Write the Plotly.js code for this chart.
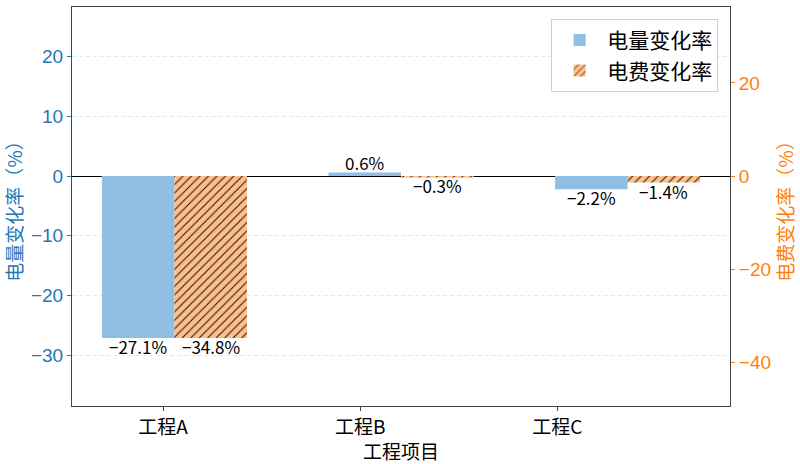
<!DOCTYPE html>
<html>
<head>
<meta charset="utf-8">
<script src="https://cdn.plot.ly/plotly-3.0.1.min.js"></script>
<style>html,body{margin:0;padding:0;background:#fff}#chart{width:800px;height:464px}</style>
</head>
<body>
<div id="chart"></div>
<script>
const categories = ['工程A', '工程B', '工程C'];
const positions = [0, 1, 2];
const energyChange = [-27.1, 0.6, -2.2];
const costChange = [-34.8, -0.3, -1.4];
const seriesNames = ['电量变化率', '电费变化率'];
const tickPositions = [-0.05, 0.82, 1.69];

const CJK = '"Noto Sans CJK SC", "DejaVu Sans", sans-serif';
const NUM = '"Liberation Sans", Arial, sans-serif';
const BLUE = '#1f77b4', ORANGE = '#ff7f0e';
const BW = 0.32;

const traces = [
  {
    type: 'bar', name: seriesNames[0], x: positions, y: energyChange,
    width: BW, offset: -BW, xaxis: 'x', yaxis: 'y',
    marker: {color: '#8fbfe4', line: {width: 0}},
    hoverinfo: 'skip'
  },
  {
    type: 'bar', name: seriesNames[1], x: positions, y: costChange,
    width: BW, offset: 0, xaxis: 'x', yaxis: 'y2',
    marker: {color: '#ffbf88', line: {width: 0},
      pattern: {shape: '/', fgcolor: '#111', fgopacity: 1, bgcolor: '#ffbf88', size: 6, solidity: 0.16, fillmode: 'replace'}},
    hoverinfo: 'skip'
  }
];

const fmt = v => v.toFixed(1).replace('-', '−') + '%';
const annotations = [];
const mk = (xv, v, yref) => ({
  xref: 'x', yref: yref, x: xv, y: v, text: fmt(v),
  showarrow: false, yanchor: v < 0 ? 'top' : 'bottom', borderpad: 0, yshift: v < 0 ? 5 : -4,
  font: {family: CJK, size: 17, color: '#000'}
});
energyChange.forEach((v, i) => annotations.push(mk(positions[i] - BW / 2, v, 'y')));
costChange.forEach((v, i) => annotations.push(mk(positions[i] + BW / 2, v, 'y2')));

const layout = {
  width: 800, height: 464,
  margin: {l: 72, r: 70, t: 7, b: 58},
  paper_bgcolor: '#fff', plot_bgcolor: '#fff',
  showlegend: true,
  barmode: 'overlay',
  annotations: annotations,
  legend: {
    x: 0.982, y: 0.97, xanchor: 'right', yanchor: 'top',
    bgcolor: 'rgba(255,255,255,0.85)', bordercolor: '#d0d0d0', borderwidth: 1,
    font: {family: CJK, size: 21, color: '#000'},
    itemwidth: 45, tracegroupgap: 4
  },
  xaxis: {
    type: 'linear', range: [-0.452, 2.452],
    tickvals: tickPositions, ticktext: categories,
    tickfont: {family: CJK, size: 19, color: '#000'},
    ticks: 'outside', ticklen: 4, tickcolor: '#444',
    showgrid: false, zeroline: false,
    showline: true, mirror: true, linecolor: '#444', linewidth: 1,
    title: {text: '工程项目', font: {family: CJK, size: 19, color: '#000'}, standoff: 0}
  },
  yaxis: {
    range: [-38.5, 28.3], dtick: 10, tick0: 0,
    tickfont: {family: NUM, size: 19, color: BLUE},
    ticks: 'outside', ticklen: 4, tickcolor: BLUE,
    showgrid: true, gridcolor: '#e8e8e8', griddash: '4px,3px', gridwidth: 1,
    zeroline: true, zerolinecolor: '#000', zerolinewidth: 1,
    showline: true, linecolor: '#444', linewidth: 1,
    title: {text: '电量变化率（%）', font: {family: CJK, size: 19, color: BLUE}, standoff: 3}
  },
  yaxis2: {
    overlaying: 'y', side: 'right',
    range: [-49.4, 36.3], dtick: 20, tick0: 0,
    tickfont: {family: NUM, size: 19, color: ORANGE},
    ticks: 'outside', ticklen: 4, tickcolor: ORANGE,
    showgrid: false, zeroline: false,
    showline: true, linecolor: '#444', linewidth: 1,
    title: {text: '电费变化率（%）', font: {family: CJK, size: 19, color: ORANGE}, standoff: 6}
  }
};

Plotly.newPlot('chart', traces, layout, {displayModeBar: false, staticPlot: true});
</script>
</body>
</html>
